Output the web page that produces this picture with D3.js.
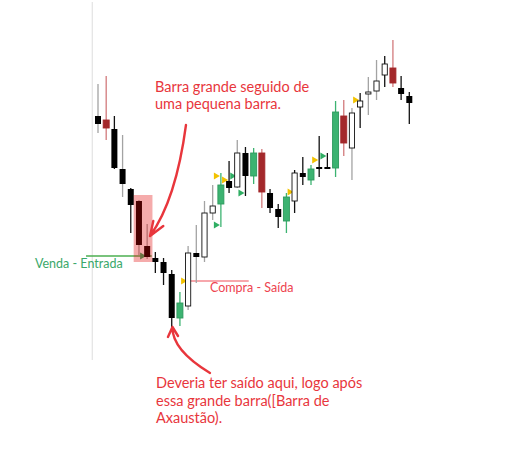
<!DOCTYPE html>
<html><head><meta charset="utf-8">
<script src="https://cdn.jsdelivr.net/npm/d3@7"></script>
<style>body{margin:0;background:#fff}</style>
</head><body><svg id="c" width="514" height="449"></svg>
<script>
// ---- data ----
const opens  = [124.4,124.0,123.1,119.1,117.1,115.9,111.4,110.2,109.8,108.6,104.2,105.4,110.7,110.3,114.7,115.6,117.9,117.3,120.7,118.4,120.7,116.7,115.1,113.9,115.9,118.7,118.0,119.2,119.2,119.2,124.4,121.2,125.3,126.6,126.9,128.5,129.2,127.2,126.4];
const highs  = [127.6,128.4,124.4,122.5,117.2,116.0,113.6,110.8,110.2,109.0,106.8,111.4,113.5,115.9,117.5,118.7,119.9,122.0,121.3,121.2,121.1,117.1,115.6,116.7,119.0,120.3,119.5,122.4,120.7,125.9,126.0,125.2,126.7,128.3,130.0,130.4,132.0,128.4,126.8];
const lows   = [122.7,122.0,119.1,116.3,112.7,110.5,110.1,108.7,107.5,103.3,103.4,105.0,107.7,109.8,114.0,113.3,116.7,117.2,116.4,117.6,115.2,114.7,113.2,112.7,114.7,117.5,117.5,118.3,119.2,118.3,120.4,118.0,123.2,124.5,126.0,127.3,127.3,126.0,123.6];
const closes = [123.6,123.2,119.2,117.6,115.5,111.5,110.3,109.8,108.7,104.2,105.7,110.7,110.3,114.7,115.4,117.5,117.2,120.7,118.4,120.7,116.8,115.2,114.3,116.3,118.7,118.3,119.1,119.1,119.2,124.8,121.7,124.7,125.9,126.8,127.9,129.6,127.7,126.6,125.7];
// k: black, kg: black w/ grey wick, w: hollow, wk: hollow w/ black wick, g: green signal, r: red signal
const kinds  = ['kg','r','k','kg','k','kg','kg','k','k','k','g','w','kg','w','w','g','k','w','k','g','r','k','k','g','wk','k','g','k','k','g','r','w','wk','w','w','wk','r','k','k'];
// signal markers: candle index, price, type
const markerIdx   = [11,6,15,15,16,17,18,24,27,28,32];
const markerPrice = [107.9,110.4,118.4,113.5,118.0,118.4,116.7,116.8,120.0,120.4,126.0];
const markerType  = ['y','g','y','g','y','g','g','y','y','g','y'];
const entryPrice = 110.4;   // Venda - Entrada
const exitPrice  = 107.9;   // Compra - Saída
const highlightIdx = [5,6];
const highlightTop = 116.5, highlightBottom = 109.8;

// ---- scales ----
const svg = d3.select('#c');
const x = d3.scaleLinear().domain([0,38]).range([98,409.3]);
const y = d3.scaleLinear().domain([100,136]).range([360,0]);
const data = opens.map((o,i)=>({i,o,h:highs[i],l:lows[i],c:closes[i],k:kinds[i]}));

const FONT = 'Lato, "Open Sans", sans-serif';
const RED = '#e8363c';

// left axis line
svg.append('line').attr('x1',x(-0.7)).attr('x2',x(-0.7)).attr('y1',2).attr('y2',y(100))
  .attr('stroke','#e3e3e3').attr('stroke-width',1.2);

// entry / exit lines
svg.append('line').attr('x1',x(-1.46)).attr('x2',x(6.55)).attr('y1',y(entryPrice)).attr('y2',y(entryPrice))
  .attr('stroke','#4caf50').attr('stroke-width',1.4);
svg.append('line').attr('x1',x(10.2)).attr('x2',x(18.4)).attr('y1',y(exitPrice)).attr('y2',y(exitPrice))
  .attr('stroke','#f0505a').attr('stroke-width',1.2);

// markers
const tri = 'M-3,-3.5L3,0L-3,3.5Z';
svg.append('g').selectAll('path').data(markerIdx).join('path')
  .attr('d',tri)
  .attr('transform',(d,j)=>`translate(${x(d)-4},${y(markerPrice[j])})`)
  .attr('fill',(d,j)=>markerType[j]==='y'?'#f2c200':'#2fae63');

// candles
const wickCol = k => k==='g'?'#3cb371':k==='r'?'#d27a7c':(k==='kg'||k==='w')?'#a3a3a3':'#111';
const g = svg.append('g');
g.selectAll('line.w').data(data).join('line')
  .attr('x1',d=>x(d.i)).attr('x2',d=>x(d.i)).attr('y1',d=>y(d.h)).attr('y2',d=>y(d.l))
  .attr('stroke',d=>wickCol(d.k)).attr('stroke-width',1.3);
g.selectAll('rect.b').data(data).join('rect')
  .attr('x',d=>x(d.i)-(d.k[0]==='w'?2.6:3))
  .attr('width',d=>d.k[0]==='w'?5.2:6)
  .attr('y',d=>y(Math.max(d.o,d.c)) - (Math.abs(d.o-d.c)<0.15?1:0))
  .attr('height',d=>Math.max(Math.abs(y(d.o)-y(d.c)),2))
  .attr('fill',d=>d.k==='g'?'#3cb371':d.k==='r'?'#a3282b':d.k[0]==='w'?'#fff':'#000')
  .attr('stroke',d=>d.k==='g'?'#2e9a5e':d.k==='r'?'#a3282b':d.k[0]==='w'?'#111':'none')
  .attr('stroke-width',0.9);

// highlight box
svg.append('rect')
  .attr('x',x(highlightIdx[0])-5.3).attr('width',x(highlightIdx[1])-x(highlightIdx[0])+10.6)
  .attr('y',y(highlightTop)).attr('height',y(highlightBottom)-y(highlightTop))
  .attr('fill','rgba(225,0,0,0.33)');

// arrows (anchored in data units)
function arrow(s,c,e,a1,a2){
  const p = d3.path();
  p.moveTo(x(s[0]),y(s[1])); p.quadraticCurveTo(x(c[0]),y(c[1]),x(e[0]),y(e[1]));
  p.moveTo(x(a1[0]),y(a1[1])); p.lineTo(x(e[0]),y(e[1])); p.lineTo(x(a2[0]),y(a2[1]));
  svg.append('path').attr('d',p.toString()).attr('fill','none').attr('stroke',RED)
    .attr('stroke-width',2.4).attr('stroke-linecap','round').attr('stroke-linejoin','round');
}
arrow([10.74,123.5],[9.52,116.0],[6.35,112.4],[6.75,113.9],[7.97,113.4]);
arrow([13.67,98.7],[9.03,101.0],[9.09,103.3],[8.54,102.3],[9.77,102.4]);

// texts
function text(lines, xi, p, col, size, lh){
  const t = svg.append('text').attr('x',x(xi)).attr('y',y(p)).attr('fill',col)
    .attr('font-family',FONT).attr('font-size',size);
  lines.forEach((l,k)=>t.append('tspan').attr('x',x(xi)).attr('dy',k?lh:0).text(l));
}
text(['Barra grande seguido de','uma pequena barra.'],6.96,126.8,RED,14.5,17);
text(['Deveria ter saído aqui, logo após','essa grande barra([Barra de','Axaustão).'],7.08,97.2,RED,14.5,17.5);
text(['Venda - Entrada'],-7.69,109.2,'#3aa86a',12.5,0);
text(['Compra - Saída'],13.67,106.8,'#ee4450',12.5,0);
</script></body></html>
